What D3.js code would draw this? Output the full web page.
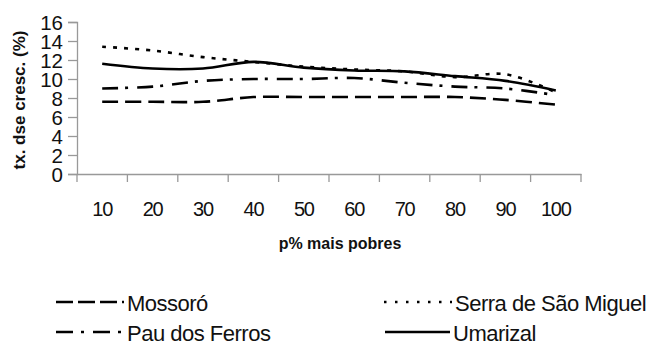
<!DOCTYPE html>
<html><head><meta charset="utf-8">
<script src="https://cdn.jsdelivr.net/npm/d3@7"></script>
<style>body{margin:0;background:#fff}</style>
</head><body>
<script>
const categories = [10,20,30,40,50,60,70,80,90,100];
const mossoro = [7.6,7.6,7.6,8.1,8.1,8.1,8.1,8.1,7.8,7.3];
const serra = [13.4,13.0,12.3,11.8,11.3,11.0,10.8,10.2,10.5,8.6];
const pau = [9.0,9.2,9.8,10.0,10.0,10.1,9.6,9.2,9.0,8.3];
const umarizal = [11.6,11.1,11.1,11.8,11.2,10.9,10.8,10.3,9.8,8.8];
const yTicks = [0,2,4,6,8,10,12,14,16];
const seriesNames = ["Mossoró","Serra de São Miguel","Pau dos Ferros","Umarizal"];

const W=663,H=349;
const svg=d3.select("body").append("svg").attr("width",W).attr("height",H);
const x=d3.scaleBand().domain(categories).range([77,581]);
const y=d3.scaleLinear().domain([0,16]).range([174,22]);

const font="Liberation Sans, Arial, sans-serif";
const ya=svg.append("g").attr("transform","translate(77,0)").call(d3.axisLeft(y).tickValues(yTicks).tickSize(9).tickPadding(5));
const xa=svg.append("g").attr("transform","translate(0,174)").call(d3.axisBottom(x).tickSize(0).tickPadding(28));
[ya,xa].forEach(a=>{a.attr("font-size",null).attr("font-family",null);a.select(".domain").attr("stroke","#999").attr("stroke-width",1.3);a.selectAll(".tick line").attr("stroke","#999").attr("stroke-width",1.3);});
ya.selectAll("text").style("font-family",font).style("font-size","20.5px").attr("fill","#111").attr("dy","0.36em");
xa.selectAll("text").style("font-family",font).style("font-size","20px").attr("fill","#111").attr("letter-spacing",-1.2);
const bounds=categories.map(c=>x(c)).concat([x(categories[categories.length-1])+x.bandwidth()]);
svg.append("g").selectAll("line").data(bounds).join("line")
 .attr("x1",d=>d).attr("x2",d=>d).attr("y1",174).attr("y2",182).attr("stroke","#999").attr("stroke-width",1.3);

svg.append("text").attr("transform","translate(25,100) rotate(-90)").attr("text-anchor","middle")
 .style("font-family",font).attr("font-weight","bold").style("font-size","17px").attr("fill","#111").text("tx. dse cresc. (%)");
svg.append("text").attr("x",340).attr("y",249).attr("text-anchor","middle")
 .style("font-family",font).attr("font-weight","bold").style("font-size","16px").attr("fill","#111").text("p%  mais pobres");

const styles={"Mossoró":"16,7","Serra de São Miguel":"4,7","Pau dos Ferros":"16,7,3,9","Umarizal":null};
const legStyles={"Mossoró":"17,5","Serra de São Miguel":"2.5,8.5","Pau dos Ferros":"17,8,3,9","Umarizal":null};
const data={"Mossoró":mossoro,"Serra de São Miguel":serra,"Pau dos Ferros":pau,"Umarizal":umarizal};
const line=d3.line().x((d,i)=>x(categories[i])+x.bandwidth()/2).y(d=>y(d)).curve(d3.curveCatmullRom.alpha(0.5));
seriesNames.forEach(n=>{
  svg.append("path").attr("d",line(data[n])).attr("fill","none").attr("stroke","#000").attr("stroke-width",2.6)
   .attr("stroke-dasharray",styles[n]);
});
const leg=[{n:"Mossoró",x:56,y:302,tx:127},{n:"Serra de São Miguel",x:384,y:302,tx:455},{n:"Pau dos Ferros",x:56,y:332,tx:127},{n:"Umarizal",x:385,y:332,tx:453}];
leg.forEach(l=>{
  svg.append("line").attr("x1",l.x).attr("x2",l.tx-3).attr("y1",l.y).attr("y2",l.y).attr("stroke","#000").attr("stroke-width",2.4).attr("stroke-dasharray",legStyles[l.n]);
  svg.append("text").attr("x",l.tx).attr("y",l.y+9).style("font-family",font).style("font-size","22px").attr("letter-spacing",-0.5).attr("fill","#111").text(l.n);
});
</script>
</body></html>
